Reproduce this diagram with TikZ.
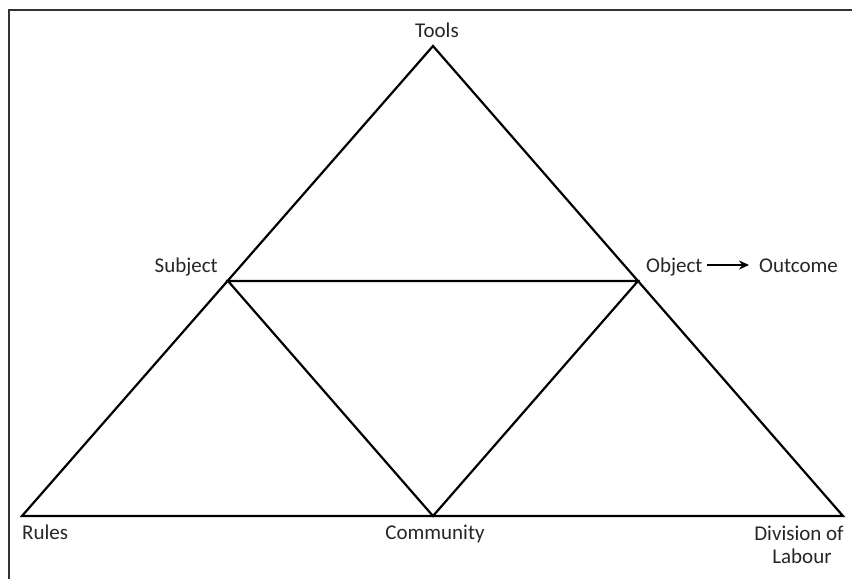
\documentclass[tikz,border=0pt]{standalone}
\usepackage{fontspec}
\setmainfont{Carlito}
\usetikzlibrary{arrows.meta,calc}
\begin{document}
\begin{tikzpicture}[x=1pt,y=-1pt,
  edge/.style={line width=2.2pt,line join=miter},
  lbl/.style={inner sep=0pt,font=\fontsize{21}{23}\selectfont,text=black!85}]
\useasboundingbox (0,0) rectangle (852,579);
% frame (top and left edges only)
\draw[line width=2pt,black!80] (852,10) -- (9,10) -- (9,579);
% vertices
\coordinate (T) at (433,46);
\coordinate (S) at (228,281);
\coordinate (O) at (638,281);
\coordinate (R) at (22,516);
\coordinate (C) at (433,516);
\coordinate (D) at (843,516);
% triangle
\draw[edge] (R) -- (T) -- (D) -- cycle;
\draw[edge] (S) -- (O) -- (C) -- cycle;
% labels
\node[lbl,anchor=base] (tools) at (437,37) {Tools};
\node[lbl,anchor=base east] (subj) at (218,272) {Subject};
\node[lbl,anchor=base west] (obj) at (646,272) {Object};
\node[lbl,anchor=base west] (out) at (759,272) {Outcome};
\node[lbl,anchor=base west] (rules) at (22,539) {Rules};
\node[lbl,anchor=base] (comm) at (435,539) {Community};
\node[lbl,anchor=base] (div) at (799,540) {Division of};
\node[lbl,anchor=base] (lab) at (802,563) {Labour};
\draw[line width=2pt,-{Stealth[length=10pt,width=9pt]}]
  ($(obj.base east)+(4,-7)$) -- ($(out.base west)+(-10,-7)$);
\end{tikzpicture}
\end{document}
